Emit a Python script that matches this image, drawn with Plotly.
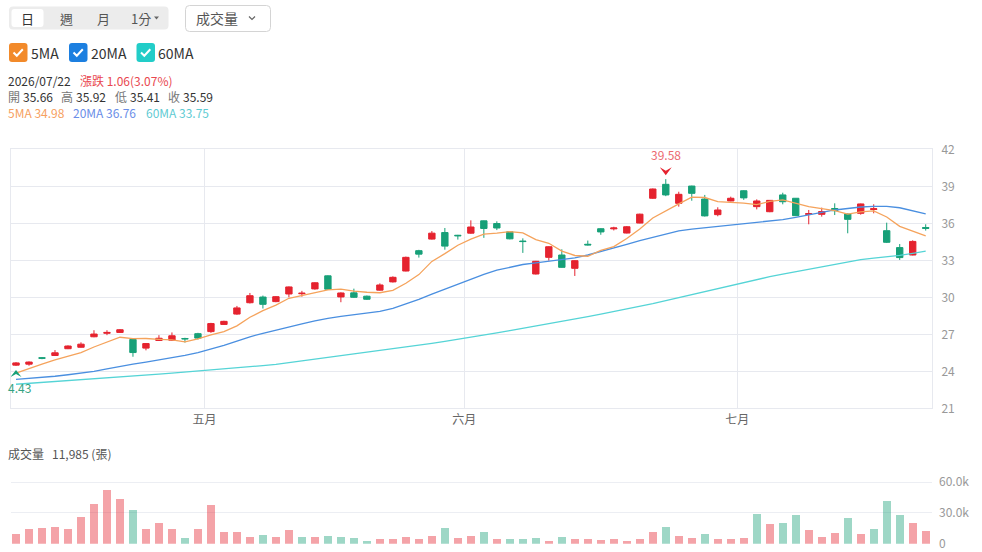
import plotly.graph_objects as go

W, H = 982, 552

# ---------------- data ----------------
open_ = [24.50, 24.58, 25.10, 25.28, 25.83, 25.95, 26.80, 27.08, 27.15, 26.58,
         25.88, 26.50, 26.52, 26.66, 27.05, 27.22, 27.80, 28.64, 29.56, 30.02,
         29.65, 30.27, 30.29, 30.68, 31.74, 30.03, 30.36, 30.09, 30.58, 31.25,
         32.13, 33.78, 34.72, 35.25, 35.03, 35.20, 36.20, 35.98, 35.31, 34.56,
         31.89, 33.24, 33.43, 32.35, 34.30, 35.56, 35.55, 35.21, 36.02, 38.03,
         39.16, 37.62, 39.02, 37.97, 36.70, 37.81, 38.64, 37.35, 36.94, 38.30,
         38.03, 36.72, 36.73, 37.20, 36.75, 36.81, 37.12, 35.40, 34.03, 33.43,
         35.66]
high = [24.75, 24.80, 25.15, 25.72, 26.10, 26.35, 27.33, 27.33, 27.42, 26.62,
        26.28, 26.93, 27.15, 26.72, 27.12, 27.93, 28.10, 29.30, 30.35, 30.14,
        30.10, 30.88, 30.52, 31.22, 31.78, 30.40, 30.70, 30.14, 31.13, 31.70,
        33.30, 33.85, 35.37, 35.62, 35.06, 36.24, 36.22, 36.16, 35.33, 34.78,
        32.95, 34.14, 33.89, 33.00, 34.60, 35.60, 35.72, 35.78, 36.78, 38.82,
        39.58, 38.56, 39.05, 38.30, 37.30, 38.16, 38.68, 37.94, 37.88, 38.48,
        38.05, 37.08, 37.27, 37.62, 36.80, 37.60, 37.54, 36.05, 34.32, 34.62,
        35.92]
low = [24.43, 24.45, 24.98, 25.24, 25.80, 25.92, 26.76, 26.93, 27.12, 25.18,
       25.70, 26.46, 26.46, 26.33, 26.58, 27.12, 27.76, 28.58, 29.50, 29.09,
       29.60, 30.00, 30.05, 30.62, 30.60, 29.60, 29.95, 29.78, 30.54, 31.20,
       32.10, 33.22, 34.68, 33.86, 34.68, 35.15, 34.82, 35.45, 34.70, 33.60,
       31.85, 32.97, 32.40, 31.73, 34.20, 35.07, 35.42, 35.18, 36.00, 37.98,
       38.20, 37.35, 37.83, 36.55, 36.57, 37.78, 37.90, 37.13, 36.90, 37.54,
       36.60, 35.92, 36.54, 36.67, 35.19, 36.70, 36.81, 34.40, 33.03, 33.40,
       35.41]
close = [24.68, 24.75, 25.06, 25.50, 26.05, 26.20, 27.02, 27.15, 27.37, 25.52,
         26.25, 26.68, 26.88, 26.63, 26.69, 27.87, 28.05, 29.14, 30.13, 29.43,
         30.05, 30.84, 30.33, 31.18, 30.66, 30.35, 30.00, 29.84, 31.00, 31.62,
         33.24, 33.50, 35.20, 34.15, 34.99, 35.70, 35.58, 35.62, 34.74, 34.52,
         32.92, 34.10, 32.43, 32.97, 34.25, 35.30, 35.62, 35.72, 36.74, 38.78,
         38.30, 38.35, 38.43, 36.60, 37.08, 38.03, 38.06, 37.81, 37.86, 37.75,
         36.62, 36.78, 36.95, 37.02, 36.32, 37.57, 37.18, 34.46, 33.22, 34.53,
         35.59]
volume = [9600, 14700, 15300, 16000, 14700, 25600, 38700, 52000, 43500, 33200,
          14000, 20000, 14400, 5400, 14400, 37700, 11800, 11500, 7000, 8600,
          6400, 13700, 6700, 6400, 8000, 6700, 5800, 3200, 4200, 4500,
          7000, 5100, 7300, 15000, 5800, 8000, 11200, 4800, 5100, 4500,
          5400, 2900, 7000, 5100, 4500, 3800, 4800, 3200, 5100, 11800,
          16000, 7700, 6000, 9600, 4200, 4500, 5800, 29000, 19200, 20400,
          27800, 13700, 6700, 10500, 24600, 9600, 14000, 41200, 28400, 20400,
          11985]
ma5 = [23.85, 24.24, 24.58, 24.92, 25.21, 25.51, 25.97, 26.38, 26.76, 26.65,
       26.66, 26.59, 26.54, 26.39, 26.63, 26.95, 27.22, 27.68, 28.38, 28.92,
       29.36, 29.92, 30.16, 30.37, 30.61, 30.67, 30.50, 30.41, 30.37, 30.56,
       31.14, 31.84, 32.91, 33.54, 34.22, 34.71, 35.12, 35.21, 35.33, 35.23,
       34.68, 34.38, 33.74, 33.39, 33.33, 33.81, 34.11, 34.77, 35.53, 36.43,
       37.03, 37.58, 38.12, 38.09, 37.75, 37.70, 37.64, 37.52, 37.77, 37.90,
       37.62, 37.36, 37.19, 37.02, 36.74, 36.93, 37.01, 36.51, 35.75, 35.39,
       34.98]
ma20 = [23.35, 23.42, 23.50, 23.60, 23.72, 23.84, 24.00, 24.20, 24.42, 24.58,
        24.75, 24.92, 25.10, 25.30, 25.52, 25.80, 26.10, 26.45, 26.80, 27.08,
        27.35, 27.62, 27.85, 28.08, 28.30, 28.45, 28.58, 28.70, 28.85, 29.10,
        29.45, 29.84, 30.25, 30.65, 31.05, 31.48, 31.85, 32.20, 32.45, 32.66,
        32.80, 32.92, 33.04, 33.20, 33.43, 33.70, 34.00, 34.30, 34.60, 34.88,
        35.15, 35.38, 35.53, 35.64, 35.74, 35.83, 35.92, 36.02, 36.15, 36.30,
        36.48, 36.65, 36.88, 37.08, 37.22, 37.32, 37.38, 37.38, 37.26, 37.03,
        36.76]
ma60 = [22.95, 23.02, 23.09, 23.16, 23.23, 23.30, 23.38, 23.46, 23.54, 23.62,
        23.70, 23.77, 23.85, 23.93, 24.01, 24.09, 24.18, 24.27, 24.37, 24.46,
        24.56, 24.70, 24.85, 25.00, 25.13, 25.26, 25.39, 25.52, 25.65, 25.80,
        25.95, 26.10, 26.26, 26.42, 26.58, 26.75, 26.93, 27.11, 27.30, 27.48,
        27.67, 27.86, 28.05, 28.24, 28.43, 28.63, 28.83, 29.03, 29.24, 29.48,
        29.73, 29.98, 30.23, 30.48, 30.73, 30.98, 31.22, 31.45, 31.67, 31.88,
        32.08, 32.28, 32.48, 32.67, 32.86, 33.05, 33.17, 33.27, 33.40, 33.57,
        33.75]

month_labels = ["五月", "六月", "七月"]
month_first_idx = [15, 35, 56]          # index of first trading day of each month
price_ticks = [21, 24, 27, 30, 33, 36, 39, 42]
vol_ticks = [0, 30000, 60000]
vol_tick_labels = ["0", "30.0k", "60.0k"]
last_date = "2026/07/22"
low_label = "4.43"   # as shown (left part clipped in the reference)

# ---------------- styling ----------------
FONT = "Noto Sans CJK TC, Noto Sans, sans-serif"
UP, DOWN = "#e5232f", "#17a078"
UP_VOL, DOWN_VOL = "rgba(229,35,47,0.42)", "rgba(23,160,120,0.42)"
C5, C20, C60 = "#f5a35c", "#4a8fe0", "#55d4d6"
GRID = "#e7e9ef"


def X(px):
    return px / W


def Y(py):
    return 1 - py / H


x = list(range(len(close)))
n = len(close)

vol_colors = []
for i in range(n):
    ref = close[i - 1] if i > 0 else open_[i]
    vol_colors.append(UP_VOL if close[i] >= ref else DOWN_VOL)

fig = go.Figure()
fig.add_trace(go.Scatter(x=x, y=ma60, mode="lines", line=dict(color=C60, width=1.3),
                         xaxis="x", yaxis="y", hoverinfo="skip"))
fig.add_trace(go.Scatter(x=x, y=ma20, mode="lines", line=dict(color=C20, width=1.3),
                         xaxis="x", yaxis="y", hoverinfo="skip"))
fig.add_trace(go.Scatter(x=x, y=ma5, mode="lines", line=dict(color=C5, width=1.3),
                         xaxis="x", yaxis="y", hoverinfo="skip"))
fig.add_trace(go.Candlestick(
    x=x, open=open_, high=high, low=low, close=close,
    increasing=dict(line=dict(color=UP, width=1), fillcolor=UP),
    decreasing=dict(line=dict(color=DOWN, width=1), fillcolor=DOWN),
    whiskerwidth=0, xaxis="x", yaxis="y"))
fig.add_trace(go.Bar(x=x, y=volume, marker=dict(color=vol_colors, line=dict(width=0)),
                     width=0.64, xaxis="x2", yaxis="y2", hoverinfo="skip"))

# ---------------- geometry ----------------
PX_L, PX_R = 11, 932
P_TOP, P_BOT = 149.3, 408.3
V_ZERO, V_60K, V_TOP = 543.8, 482.0, 470.0
xr = [-5 / 12.99, n - 1 + 6.3 / 12.99]
vol_max = 60000 * (V_ZERO - V_TOP) / (V_ZERO - V_60K)

axis_common = dict(zeroline=False, fixedrange=True, automargin=False)
fig.update_layout(
    width=W, height=H, margin=dict(l=0, r=0, t=0, b=0, pad=0), autosize=False,
    paper_bgcolor="white", plot_bgcolor="white", showlegend=False,
    font=dict(family=FONT, size=12, color="#999"),
    bargap=0,
    xaxis=dict(domain=[X(PX_L), X(PX_R)], range=xr, anchor="y",
               tickvals=[i - 0.5 for i in month_first_idx], ticktext=month_labels,
               showgrid=True, gridcolor=GRID, gridwidth=1, ticks="",
               tickfont=dict(size=12, color="#666"),
               showline=True, linecolor=GRID, mirror=True,
               rangeslider=dict(visible=False), **axis_common),
    yaxis=dict(domain=[Y(P_BOT), Y(P_TOP)], range=[21, 42], anchor="x", side="right",
               tickvals=price_ticks, showgrid=True, gridcolor=GRID, ticks="",
               tickfont=dict(size=12, color="#999"), ticklabelstandoff=6,
               showline=True, linecolor=GRID, mirror=True, **axis_common),
    xaxis2=dict(domain=[X(PX_L), X(PX_R)], range=xr, anchor="y2", matches="x",
                showticklabels=False, showgrid=False, showline=False, ticks="",
                **axis_common),
    yaxis2=dict(domain=[Y(V_ZERO), Y(V_TOP)], range=[0, vol_max], anchor="x2",
                side="right", tickvals=vol_ticks, ticktext=vol_tick_labels,
                showgrid=True, gridcolor="#eceef3", ticks="",
                tickfont=dict(size=12, color="#999"), ticklabelstandoff=6,
                showline=False, **axis_common),
)

# ---------------- shapes (UI chrome) ----------------
shapes = []


def rrect(x0, y0, x1, y1, r):
    pts = [
        f"M {X(x0 + r)},{Y(y0)}", f"L {X(x1 - r)},{Y(y0)}",
        f"Q {X(x1)},{Y(y0)} {X(x1)},{Y(y0 + r)}", f"L {X(x1)},{Y(y1 - r)}",
        f"Q {X(x1)},{Y(y1)} {X(x1 - r)},{Y(y1)}", f"L {X(x0 + r)},{Y(y1)}",
        f"Q {X(x0)},{Y(y1)} {X(x0)},{Y(y1 - r)}", f"L {X(x0)},{Y(y0 + r)}",
        f"Q {X(x0)},{Y(y0)} {X(x0 + r)},{Y(y0)}", "Z"]
    return " ".join(pts)


def poly(points, close_path=False):
    s = " ".join(("M" if k == 0 else "L") + f" {X(px)},{Y(py)}" for k, (px, py) in enumerate(points))
    return s + (" Z" if close_path else "")


shapes.append(dict(type="path", xref="paper", yref="paper", path=rrect(9, 6.5, 168.5, 29.5, 4),
                   fillcolor="#ececec", line=dict(width=0), layer="above"))
shapes.append(dict(type="path", xref="paper", yref="paper", path=rrect(11.5, 9, 43.5, 27, 3),
                   fillcolor="white", line=dict(width=0), layer="above"))
shapes.append(dict(type="path", xref="paper", yref="paper", path=poly([(154, 16.5), (159, 16.5), (156.5, 19.5)], True),
                   fillcolor="#666", line=dict(width=0), layer="above"))
shapes.append(dict(type="path", xref="paper", yref="paper", path=rrect(185.5, 5.5, 270.5, 31.5, 4),
                   fillcolor="white", line=dict(color="#d4d4d4", width=1), layer="above"))
shapes.append(dict(type="path", xref="paper", yref="paper", path=poly([(249, 16.5), (252, 19.5), (255, 16.5)]),
                   line=dict(color="#666", width=1.2), layer="above"))

for x0, col in [(9, "#f28a2a"), (69, "#1c7fe0"), (136.5, "#22cdc8")]:
    shapes.append(dict(type="path", xref="paper", yref="paper", path=rrect(x0, 43, x0 + 18.5, 62, 3),
                       fillcolor=col, line=dict(width=0), layer="above"))
    shapes.append(dict(type="path", xref="paper", yref="paper",
                       path=poly([(x0 + 4.5, 52.5), (x0 + 7.8, 55.8), (x0 + 13.8, 49.3)]),
                       line=dict(color="white", width=2), layer="above"))

# high / low markers (pixel-sized, anchored at data)
hi_idx = max(range(n), key=lambda i: high[i])
lo_idx = min(range(n), key=lambda i: low[i])
shapes.append(dict(type="path", xref="x", yref="y", xsizemode="pixel", ysizemode="pixel",
                   xanchor=hi_idx, yanchor=high[hi_idx],
                   path="M -6,12 L 0,8.5 L 6,12 L 0,4 Z", fillcolor=UP, line=dict(width=0)))
shapes.append(dict(type="path", xref="x", yref="y", xsizemode="pixel", ysizemode="pixel",
                   xanchor=lo_idx, yanchor=low[lo_idx],
                   path="M -5.5,-11 L 0,-8 L 5.5,-11 L 0,-4 Z", fillcolor=DOWN, line=dict(width=0)))
fig.update_layout(shapes=shapes)

# ---------------- annotations ----------------
ann = []


def text(px, py, s, color="#333", size=12, anchor="left"):
    if anchor == "left":
        px -= 2
    ann.append(dict(xref="paper", yref="paper", x=X(px), y=Y(py), text=s, showarrow=False,
                    xanchor=anchor, yanchor="middle", borderpad=0,
                    font=dict(family=FONT, size=size, color=color)))


# toolbar
text(27.5, 18, "日", "#333", 13, "center")
text(66, 18, "週", "#555", 13, "center")
text(103, 18, "月", "#555", 13, "center")
text(141, 18, "1分", "#555", 13, "center")
text(217, 18.5, "成交量", "#555", 14, "center")
# MA checkboxes
text(32, 52.5, "5MA", "#333", 14)
text(92, 52.5, "20MA", "#333", 14)
text(159, 52.5, "60MA", "#333", 14)

# info lines
prev_close = close[-2]
chg = close[-1] - prev_close
text(9, 81, last_date, "#333", 12)
text(80.5, 81, f"漲跌 {chg:.2f}({chg / prev_close * 100:.2f}%)", "#e9474f", 12)
for lab, val, px in [("開", open_[-1], 9), ("高", high[-1], 62), ("低", low[-1], 116), ("收", close[-1], 169)]:
    text(px, 96.5, lab, "#777", 12)
    text(px + 15, 96.5, f"{val:.2f}", "#333", 12)
text(9, 112.5, f"5MA {ma5[-1]:.2f}", "#f6a15f", 12)
text(74, 112.5, f"20MA {ma20[-1]:.2f}", "#6a8ee8", 12)
text(147, 112.5, f"60MA {ma60[-1]:.2f}", "#5fcbd3", 12)

# volume title
text(9, 453, "成交量", "#555", 12)
text(53, 453, f"{volume[-1]:,} (張)", "#555", 12)

# high / low labels
ann.append(dict(xref="x", yref="y", x=hi_idx, y=high[hi_idx], text=f"{high[hi_idx]:.2f}",
                showarrow=False, yshift=25, xanchor="center", yanchor="middle",
                font=dict(family=FONT, size=12, color="#ec6a70")))
ann.append(dict(xref="x", yref="y", x=lo_idx, y=low[lo_idx], text=low_label,
                showarrow=False, yshift=-21, xshift=3.7, xanchor="center", yanchor="middle",
                font=dict(family=FONT, size=12, color="#35a382")))
fig.update_layout(annotations=ann)

fig.write_html("out.html")
